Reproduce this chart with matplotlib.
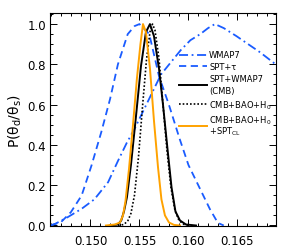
import matplotlib
matplotlib.use("Agg")
import matplotlib.pyplot as plt
from matplotlib.ticker import MultipleLocator, FormatStrFormatter

plt.rcParams['font.family'] = ['DejaVu Sans']
plt.rcParams['mathtext.fontset'] = 'dejavusans'

# WMAP7 (dash-dot blue)
x_wmap = [0.1459, 0.1464, 0.1477, 0.1491, 0.1504, 0.1518, 0.1528, 0.1537, 0.1545, 0.1559,
          0.1572, 0.1582, 0.1592, 0.1602, 0.1612, 0.1620, 0.1627, 0.1636, 0.1649, 0.1661,
          0.1673, 0.1689]
y_wmap = [0.0, 0.008, 0.042, 0.083, 0.13, 0.215, 0.32, 0.41, 0.48, 0.62,
          0.75, 0.81, 0.87, 0.92, 0.95, 0.98, 1.0, 0.98, 0.94, 0.90,
          0.86, 0.80]

# SPT+tau (dashed blue)
x_spt = [0.1459, 0.1470, 0.1480, 0.1491, 0.1501, 0.1511, 0.1520, 0.1528, 0.1538, 0.1545,
         0.1550, 0.1560, 0.1570, 0.1580, 0.1591, 0.1600, 0.1612, 0.1622, 0.1630, 0.1636]
y_spt = [0.0, 0.017, 0.066, 0.149, 0.297, 0.463, 0.628, 0.80, 0.95, 0.99,
         1.0, 0.95, 0.74, 0.60, 0.43, 0.30, 0.18, 0.08, 0.013, 0.0]

# SPT+WMAP7 (CMB) (solid black)
x_cmb = [0.15199, 0.15281, 0.15314, 0.15342, 0.15372, 0.15413, 0.15464, 0.15515, 0.15566, 0.15607,
         0.15648, 0.15699, 0.15740, 0.15786, 0.15827, 0.15867, 0.15913, 0.15974, 0.16077]
y_cmb = [0.0, 0.005, 0.025, 0.07, 0.14, 0.30, 0.54, 0.79, 0.96, 1.0,
         0.94, 0.78, 0.60, 0.38, 0.19, 0.07, 0.025, 0.005, 0.0]

# CMB+BAO+H0 (dotted black)
x_bao = [0.15281, 0.15342, 0.15383, 0.15413, 0.15449, 0.15490, 0.15531, 0.15571, 0.15607, 0.15633,
         0.15658, 0.15699, 0.15740, 0.15781, 0.15821, 0.15862, 0.15903, 0.15954, 0.16015]
y_bao = [0.0, 0.005, 0.025, 0.06, 0.15, 0.34, 0.59, 0.82, 0.96, 1.0,
         0.97, 0.83, 0.60, 0.37, 0.19, 0.075, 0.025, 0.005, 0.0]

# CMB+BAO+H0+SPT_CL (orange)
x_cl = [0.15158, 0.15250, 0.15301, 0.15332, 0.15357, 0.15393, 0.15434, 0.15474, 0.15510, 0.15536,
        0.15566, 0.15607, 0.15648, 0.15689, 0.15724, 0.15760, 0.15801, 0.15852, 0.15913]
y_cl = [0.0, 0.005, 0.015, 0.05, 0.12, 0.28, 0.50, 0.73, 0.90, 1.0,
        0.96, 0.78, 0.52, 0.29, 0.13, 0.05, 0.015, 0.003, 0.0]

blue = '#1a5cff'
orange = '#ffa200'

fig = plt.figure(figsize=(2.87, 2.53), dpi=100)
ax = fig.add_axes([0.1742, 0.1008, 0.7864, 0.8439])

ax.plot(x_wmap, y_wmap, color=blue, lw=1.3, dashes=(5, 2, 1, 2), label='WMAP7')
ax.plot(x_spt, y_spt, color=blue, lw=1.3, dashes=(4, 2.5), label='SPT+τ')
ax.plot(x_cmb, y_cmb, color='black', lw=1.4, label='SPT+WMAP7\n(CMB)')
ax.plot(x_bao, y_bao, color='black', lw=1.2, dashes=(1, 1.2), label='CMB+BAO+H$_0$')
ax.plot(x_cl, y_cl, color=orange, lw=1.4, label='CMB+BAO+H$_0$\n+SPT$_\\mathrm{CL}$')

ax.set_xlim(0.14587, 0.16890)
ax.set_ylim(-0.005, 1.055)
ax.xaxis.set_major_locator(MultipleLocator(0.005))
ax.xaxis.set_minor_locator(MultipleLocator(0.001))
ax.yaxis.set_major_locator(MultipleLocator(0.2))
ax.yaxis.set_minor_locator(MultipleLocator(0.05))
ax.xaxis.set_major_formatter(FormatStrFormatter('%.3f'))
ax.yaxis.set_major_formatter(FormatStrFormatter('%.1f'))

ax.tick_params(which='both', direction='in', top=True, right=True, width=0.7)
ax.tick_params(which='major', length=5, labelsize=8.5)
ax.tick_params(axis='x', which='major', pad=5.5)
ax.tick_params(axis='y', which='major', pad=3)
ax.tick_params(which='minor', length=2.5)
for s in ax.spines.values():
    s.set_linewidth(0.8)

ax.set_ylabel('P(θ$_\\mathrm{d}$/θ$_\\mathrm{s}$)', fontsize=10, labelpad=2)
ax.set_xlabel('θ$_\\mathrm{d}$/θ$_\\mathrm{s}$', fontsize=10, labelpad=6)

leg = ax.legend(loc='upper left', bbox_to_anchor=(0.555, 0.84), frameon=False,
                fontsize=6, handlelength=3.4, handletextpad=0.25, labelspacing=0.35,
                borderaxespad=0)
texts = leg.get_texts()
texts[2].set_linespacing(1.45)
texts[4].set_linespacing(0.8)

fig.savefig('out.png', dpi=100)
